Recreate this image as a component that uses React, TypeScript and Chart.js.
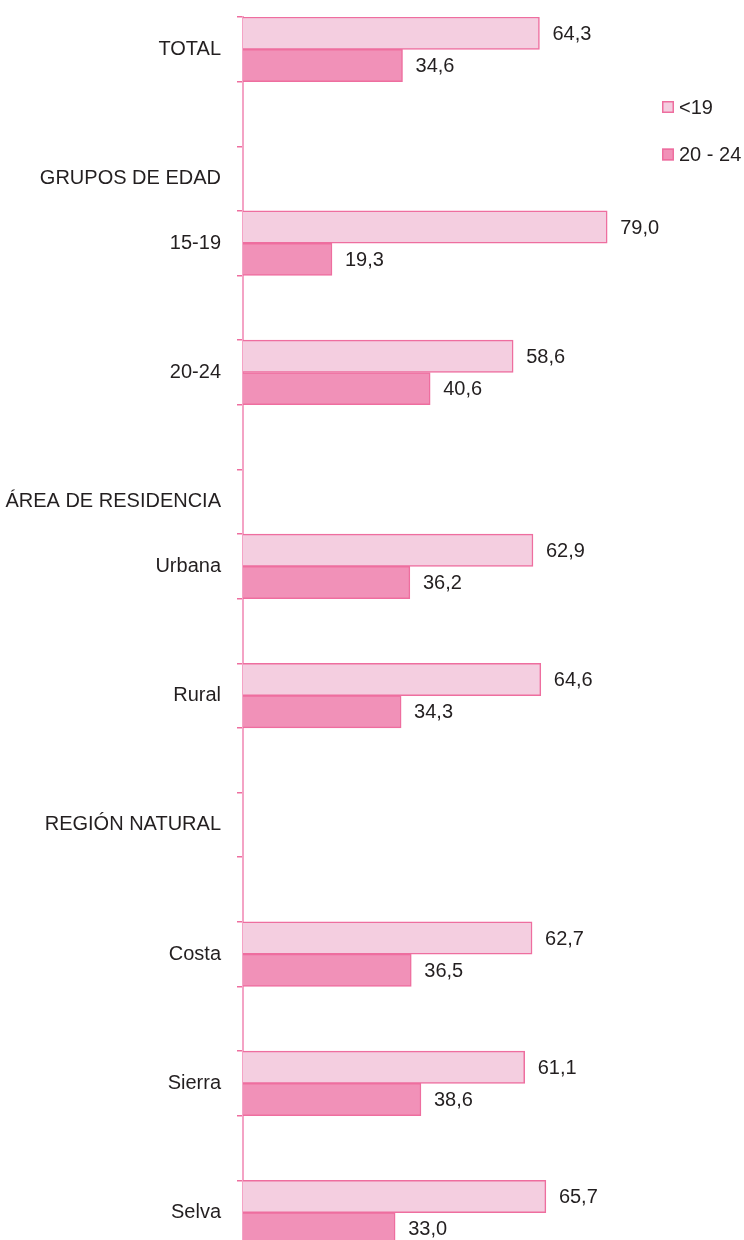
import React, { useEffect, useRef } from "react";
import { Chart, registerables } from "chart.js";

Chart.register(...registerables);

const categories = [
  "TOTAL", "", "GRUPOS DE EDAD", "15-19", "", "20-24", "",
  "ÁREA DE RESIDENCIA", "Urbana", "", "Rural", "",
  "REGIÓN NATURAL", "", "Costa", "", "Sierra", "", "Selva",
];
const under19 = [64.3, null, null, 79.0, null, 58.6, null, null, 62.9, null, 64.6, null, null, null, 62.7, null, 61.1, null, 65.7];
const age20to24 = [34.6, null, null, 19.3, null, 40.6, null, null, 36.2, null, 34.3, null, null, null, 36.5, null, 38.6, null, 33.0];
const seriesLabels = ["<19", "20 - 24"];

const FONT = '"Liberation Sans", Arial, Helvetica, sans-serif';
const TEXT = "#231F20";
const LIGHT = "#F4CEE0";
const DARK = "#F191B8";
const EDGE = "#EE6E9F";

const valueLabels = {
  id: "valueLabels",
  afterDatasetsDraw(chart: any) {
    const ctx = chart.ctx;
    ctx.save();
    ctx.font = `20px ${FONT}`;
    ctx.fillStyle = TEXT;
    ctx.textBaseline = "middle";
    ctx.textAlign = "left";
    chart.data.datasets.forEach((ds: any, di: number) => {
      const meta = chart.getDatasetMeta(di);
      meta.data.forEach((bar: any, i: number) => {
        const v = ds.data[i];
        if (v == null) return;
        ctx.fillText(Number(v).toFixed(1).replace(".", ","), bar.x + 13, bar.y + 1);
      });
    });
    ctx.restore();
  },
};

const sideLegend = {
  id: "sideLegend",
  afterDraw(chart: any, _args: any, opts: any) {
    const ctx = chart.ctx;
    ctx.save();
    ctx.font = `20px ${FONT}`;
    ctx.textBaseline = "middle";
    ctx.textAlign = "left";
    chart.data.datasets.forEach((ds: any, i: number) => {
      const cy = opts.y + i * opts.spacing;
      const s = opts.box;
      ctx.fillStyle = ds.backgroundColor;
      ctx.fillRect(opts.x, cy - s / 2, s, s);
      ctx.strokeStyle = ds.borderColor;
      ctx.lineWidth = 1.5;
      ctx.strokeRect(opts.x + 0.75, cy - s / 2 + 0.75, s - 1.5, s - 1.5);
      ctx.fillStyle = TEXT;
      ctx.fillText(ds.label, opts.x + s + 5, cy + 1);
    });
    ctx.restore();
  },
};

export default function App() {
  const ref = useRef<HTMLCanvasElement | null>(null);

  useEffect(() => {
    if (!ref.current) return;
    const chart = new Chart(ref.current, {
      type: "bar",
      data: {
        labels: categories,
        datasets: [
          {
            label: seriesLabels[0],
            data: under19,
            backgroundColor: LIGHT,
            borderColor: EDGE,
            borderWidth: 1.5,
            categoryPercentage: 1,
            barPercentage: 1,
          },
          {
            label: seriesLabels[1],
            data: age20to24,
            backgroundColor: DARK,
            borderColor: EDGE,
            borderWidth: 1.5,
            categoryPercentage: 1,
            barPercentage: 1,
          },
        ],
      },
      options: {
        indexAxis: "y",
        responsive: false,
        animation: false,
        devicePixelRatio: 1,
        layout: { padding: { top: 17, bottom: 17, left: 0, right: 40 } },
        plugins: {
          legend: { display: false },
          tooltip: { enabled: false },
          sideLegend: { x: 662, y: 107, spacing: 47.5, box: 12 },
        } as any,
        scales: {
          x: { display: false, min: 0, max: 100 },
          y: {
            afterFit: (s: any) => {
              s.width = 243;
              s.paddingTop = 0;
              s.paddingBottom = 0;
            },
            border: { display: true, color: "#F4A3C5", width: 2 },
            grid: {
              display: true,
              drawOnChartArea: false,
              drawTicks: true,
              tickLength: 6,
              lineWidth: 1.5,
              color: EDGE,
              tickColor: EDGE,
              offset: true,
            },
            ticks: {
              autoSkip: false,
              padding: 16,
              color: TEXT,
              font: { family: FONT, size: 20 },
            },
          },
        },
      } as any,
      plugins: [valueLabels, sideLegend],
    });
    return () => chart.destroy();
  }, []);

  return (
    <div style={{ position: "absolute", left: 0, top: 0, width: 744, height: 1240, overflow: "hidden", background: "#fff" }}>
      <canvas ref={ref} width={744} height={1262} style={{ display: "block" }} />
    </div>
  );
}
